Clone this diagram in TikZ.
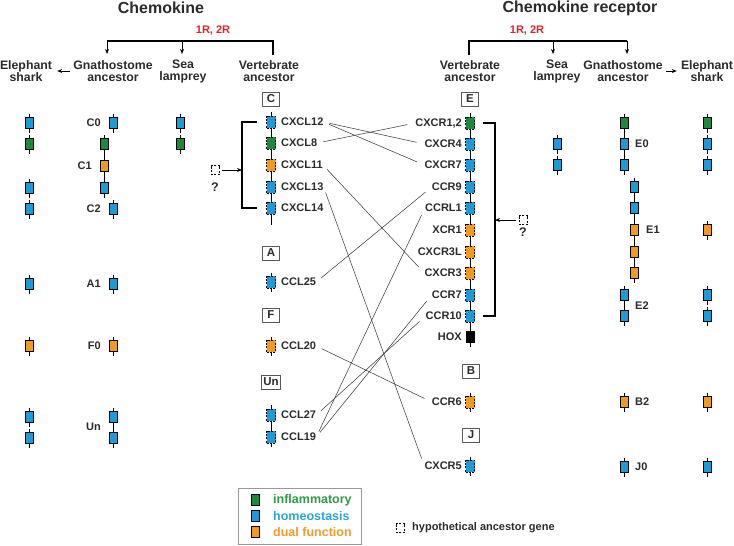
\documentclass[tikz,border=0pt]{standalone}
\usepackage{fontspec}
\setmainfont{Liberation Sans}
\usetikzlibrary{arrows.meta}
\definecolor{ginf}{HTML}{1B8A3C}
\definecolor{ghom}{HTML}{1E9AD8}
\definecolor{gdual}{HTML}{F29A1E}
\definecolor{tinf}{HTML}{2E9B45}
\definecolor{thom}{HTML}{2AA5DF}
\definecolor{tdual}{HTML}{F39A2A}
\definecolor{tgray}{HTML}{2B2B2B}
\definecolor{rred}{HTML}{E0232B}
\newcommand\gn[4]{%
  \draw[gtick] (#2,#3-9.5) -- (#2,#3+9.5);
  \node[#4] (#1) at (#2,#3) {};}
\tikzset{
  gtick/.style={line width=0.9pt, black},
  backbone/.style={line width=0.9pt, black},
  gbox/.style={rectangle, draw=black, line width=0.7pt, minimum width=8pt, minimum height=11pt, inner sep=0pt},
  inf/.style={gbox, fill=ginf},
  hom/.style={gbox, fill=ghom},
  dual/.style={gbox, fill=gdual},
  hox/.style={gbox, fill=black},
  hyp/.style={dash pattern=on 2pt off 1.3pt, minimum width=9pt, minimum height=12pt},
  hypo/.style={rectangle, draw=black, line width=0.7pt, dash pattern=on 2pt off 1.3pt, minimum width=8pt, minimum height=9pt, inner sep=0pt},
  lab/.style={font=\fontsize{11}{13}\selectfont\bfseries, text=tgray, inner sep=0pt, text height=7.9pt, text depth=0pt},
  sp/.style={font=\fontsize{12.3}{12}\selectfont\bfseries, text=tgray, align=center, inner sep=0pt},
  ttl/.style={font=\fontsize{16}{19}\selectfont\bfseries, text=tgray},
  rr/.style={font=\fontsize{11}{13}\selectfont\bfseries, text=rred},
  lbox/.style={draw=gray!70!black, line width=0.8pt, font=\fontsize{11.5}{13}\selectfont\bfseries, text=tgray, minimum width=17pt, minimum height=14pt, inner sep=2pt},
  tree/.style={line width=1.2pt, black},
  arr/.style={line width=1pt, -{Stealth[length=5pt,width=4pt]}},
  link/.style={line width=0.55pt, black!75, shorten <=6pt, shorten >=8pt},
  legt/.style={font=\fontsize{12.5}{14}\selectfont\bfseries, inner sep=0pt, anchor=west},
}
\begin{document}
\begin{tikzpicture}[x=1pt,y=-1pt]
\useasboundingbox (0,0) rectangle (734,546);

% titles
\node[ttl] (tchem) at (161,8) {Chemokine};
\node[ttl] (trec) at (580,8) {Chemokine receptor};
\node[rr] (r1) at (213,31) {1R, 2R};
\node[rr] (r2) at (527,31) {1R, 2R};

% left tree
\coordinate (lb1) at (107,41);
\coordinate (lb3) at (182,41);
\coordinate (lb2) at (273,41);
\draw[tree] (lb1) -- (lb2) -- ++(0,14);
\draw[tree,arr] (lb1) -- ++(0,13);
\draw[tree,arr] (lb3) -- ++(0,13);
\node[sp] (es1) at (26,71) {Elephant\\shark};
\node[sp] (gn1) at (113,71) {Gnathostome\\ancestor};
\node[sp] (sl1) at (183,71) {Sea\\lamprey};
\node[sp] (va1) at (269,71) {Vertebrate\\ancestor};
\draw[arr, shorten <=3pt, shorten >=5pt] (gn1.west) -- (es1.east);

% right tree
\coordinate (rb1) at (469,41);
\coordinate (rb2) at (553,41);
\coordinate (rb3) at (627,41);
\draw[tree] (rb3) -- (rb1) -- ++(0,14);
\draw[tree,arr] (rb2) -- ++(0,13);
\draw[tree,arr] (rb3) -- ++(0,13);
\node[sp] (va2) at (470,71) {Vertebrate\\ancestor};
\node[sp] (sl2) at (557,71) {Sea\\lamprey};
\node[sp] (gn2) at (623,71) {Gnathostome\\ancestor};
\node[sp] (es2) at (707,71) {Elephant\\shark};
\draw[arr, shorten <=3pt, shorten >=4pt] (gn2.east) -- (es2.west);

% ---------- chemokine: elephant shark
\gn{e1}{29}{123}{hom}
\gn{e2}{29}{144}{inf}
\gn{e3}{29}{188}{hom}
\gn{e4}{29}{209}{hom}
\gn{e5}{29}{284}{hom}
\gn{e6}{29}{346}{dual}
\gn{e7}{29}{417}{hom}
\gn{e8}{29}{438}{hom}

% ---------- chemokine: gnathostome
\gn{gc0}{113}{123}{hom}
\draw[backbone] (104,144) -- (104,188);
\gn{gc1a}{104}{144}{inf}
\gn{gc1b}{104}{166}{dual}
\gn{gc1c}{104}{188}{hom}
\gn{gc2}{113}{209}{hom}
\gn{ga1}{113}{284}{hom}
\gn{gf0}{113}{346}{dual}
\draw[backbone] (113,417) -- (113,438);
\gn{gun1}{113}{417}{hom}
\gn{gun2}{113}{438}{hom}
\node[lab, anchor=east] (lc0) at (101,123) {C0};
\node[lab, anchor=east] (lc1) at (92,166) {C1};
\node[lab, anchor=east] (lc2) at (101,209) {C2};
\node[lab, anchor=east] (la1) at (101,284) {A1};
\node[lab, anchor=east] (lf0) at (101,346) {F0};
\node[lab, anchor=east] (lun) at (101,427) {Un};

% ---------- chemokine: sea lamprey
\gn{s1}{180}{123}{hom}
\gn{s2}{180}{144}{inf}

% ---------- chemokine: vertebrate ancestor
\node[lbox] (bc) at (271,99) {C};
\node[lbox] (ba) at (271,253) {A};
\node[lbox] (bf) at (271,315) {F};
\node[lbox] (bun) at (271,382) {Un};
\draw[backbone] (271,112) -- (271,225);
\gn{v12}{271}{122}{hom,hyp}
\gn{v8}{271}{143}{inf,hyp}
\gn{v11}{271}{165}{dual,hyp}
\gn{v13}{271}{187}{hom,hyp}
\gn{v14}{271}{208}{hom,hyp}
\gn{v25}{271}{282}{hom,hyp}
\gn{v20}{271}{346}{dual,hyp}
\draw[backbone] (271,405) -- (271,447);
\gn{v27}{271}{415}{hom,hyp}
\gn{v19}{271}{437}{hom,hyp}
\node[lab, anchor=west] (tcxcl12) at (281,122) {CXCL12};
\node[lab, anchor=west] (tcxcl8) at (281,143) {CXCL8};
\node[lab, anchor=west] (tcxcl11) at (281,165) {CXCL11};
\node[lab, anchor=west] (tcxcl13) at (281,187) {CXCL13};
\node[lab, anchor=west] (tcxcl14) at (281,208) {CXCL14};
\node[lab, anchor=west] (tccl25) at (281,282) {CCL25};
\node[lab, anchor=west] (tccl20) at (281,346) {CCL20};
\node[lab, anchor=west] (tccl27) at (281,415) {CCL27};
\node[lab, anchor=west] (tccl19) at (281,437) {CCL19};

% chemokine bracket
\coordinate (bk1) at (242,170);
\draw[tree] (257,122) -- (242,122) -- (242,208) -- (257,208);
\node[hypo] (hq1) at (215,170) {};
\node[font=\fontsize{12.5}{14}\selectfont\bfseries, text=tgray, inner sep=0pt] (q1) at (215,187) {?};
\draw[arr, shorten <=3pt] (hq1.east) -- (bk1);

% ---------- receptor: vertebrate ancestor
\node[lbox] (be) at (470,99) {E};
\node[lbox] (bb) at (471,371) {B};
\node[lbox] (bj) at (471,435) {J};
\draw[backbone] (470,113) -- (470,347);
\gn{w12}{470}{123}{inf,hyp}
\gn{w4}{470}{144}{hom,hyp}
\gn{w7}{470}{165}{hom,hyp}
\gn{w9}{470}{187}{hom,hyp}
\gn{wl1}{470}{208}{hom,hyp}
\gn{wx1}{470}{230}{dual,hyp}
\gn{w3l}{470}{252}{dual,hyp}
\gn{w3}{470}{273}{dual,hyp}
\gn{w7c}{470}{295}{hom,hyp}
\gn{w10}{470}{316}{hom,hyp}
\node[hox] (whox) at (470,337) {};
\gn{w6}{470}{402}{dual,hyp}
\gn{w5}{470}{466}{hom,hyp}
\node[lab, anchor=east] (tcxcr12) at (462,123) {CXCR1,2};
\node[lab, anchor=east] (tcxcr4) at (462,144) {CXCR4};
\node[lab, anchor=east] (tcxcr7) at (462,165) {CXCR7};
\node[lab, anchor=east] (tccr9) at (462,187) {CCR9};
\node[lab, anchor=east] (tccrl1) at (462,208) {CCRL1};
\node[lab, anchor=east] (txcr1) at (462,230) {XCR1};
\node[lab, anchor=east] (tcxcr3l) at (462,252) {CXCR3L};
\node[lab, anchor=east] (tcxcr3) at (462,273) {CXCR3};
\node[lab, anchor=east] (tccr7) at (462,295) {CCR7};
\node[lab, anchor=east] (tccr10) at (462,316) {CCR10};
\node[lab, anchor=east] (thox) at (462,337) {HOX};
\node[lab, anchor=east] (tccr6) at (462,402) {CCR6};
\node[lab, anchor=east] (tcxcr5) at (462,466) {CXCR5};

% receptor bracket
\coordinate (bk2) at (495,220);
\draw[tree] (483,123) -- (495,123) -- (495,316) -- (483,316);
\node[hypo] (hq2) at (523,220) {};
\node[font=\fontsize{12.5}{14}\selectfont\bfseries, text=tgray, inner sep=0pt] (q2) at (523,232) {?};
\draw[arr, shorten <=3pt] (hq2.west) -- (bk2);

% ---------- receptor: sea lamprey
\gn{rs1}{557}{144}{hom}
\gn{rs2}{557}{165}{hom}

% ---------- receptor: gnathostome
\draw[backbone] (624,123) -- (624,165);
\gn{re0a}{624}{123}{inf}
\gn{re0b}{624}{144}{hom}
\gn{re0c}{624}{165}{hom}
\draw[backbone] (634,187) -- (634,273);
\gn{re1a}{634}{187}{hom}
\gn{re1b}{634}{208}{hom}
\gn{re1c}{634}{230}{dual}
\gn{re1d}{634}{252}{dual}
\gn{re1e}{634}{273}{dual}
\draw[backbone] (624,295) -- (624,316);
\gn{re2a}{624}{295}{hom}
\gn{re2b}{624}{316}{hom}
\gn{rb2}{624}{402}{dual}
\gn{rj0}{624}{467}{hom}
\node[lab, anchor=west] (le0) at (635,144) {E0};
\node[lab, anchor=west] (le1) at (646,230) {E1};
\node[lab, anchor=west] (le2) at (635,306) {E2};
\node[lab, anchor=west] (lb2) at (635,402) {B2};
\node[lab, anchor=west] (lj0) at (635,467) {J0};

% ---------- receptor: elephant shark
\gn{q1a}{707}{123}{inf}
\gn{q1b}{707}{144}{hom}
\gn{q1c}{707}{165}{hom}
\gn{q1d}{707}{230}{dual}
\gn{q1e}{707}{295}{hom}
\gn{q1f}{707}{316}{hom}
\gn{q1g}{707}{402}{dual}
\gn{q1h}{707}{467}{hom}

% ---------- ligand-receptor links
\draw[link] (tcxcl12.east) -- (tcxcr4.west);
\draw[link] (tcxcl12.east) -- (tcxcr7.west);
\draw[link] (tcxcl8.east) -- (tcxcr12.west);
\draw[link] (tcxcl11.east) -- (tcxcr3.west);
\draw[link] (tcxcl13.east) -- (tcxcr5.west);
\draw[link] (tccl25.east) -- (tccr9.west);
\draw[link] (tccl20.east) -- (tccr6.west);
\draw[link] (tccl27.east) -- (tccr10.west);
\draw[link] (tccl19.east) -- (tccrl1.west);
\draw[link] (tccl19.east) -- (tccr7.west);

% ---------- legend
\node[draw=gray!80, line width=0.8pt, minimum width=123pt, minimum height=56pt, inner sep=0pt] (legend) at (299.5,516.5) {};
\node[gbox, fill=ginf] (k1) at (255,500) {};
\node[gbox, fill=ghom] (k2) at (255,516) {};
\node[gbox, fill=gdual] (k3) at (255,532) {};
\node[legt, text=tinf] (kt1) at (273,500) {inflammatory};
\node[legt, text=thom] (kt2) at (273,516) {homeostasis};
\node[legt, text=tdual] (kt3) at (273,532) {dual function};
\node[hypo] (khyp) at (400,528) {};
\node[font=\fontsize{11}{13}\selectfont\bfseries, text=tgray, inner sep=0pt, anchor=west] (khypt) at (412,528) {hypothetical ancestor gene};
\end{tikzpicture}
\end{document}
